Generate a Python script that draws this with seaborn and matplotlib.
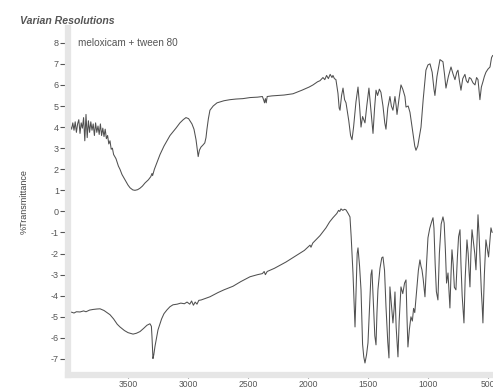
import matplotlib
matplotlib.use("Agg")
import matplotlib.pyplot as plt
import seaborn as sns
import pandas as pd
from matplotlib.ticker import MultipleLocator

sns.set_style("white")
plt.rcParams['font.family'] = ['Liberation Sans', 'DejaVu Sans']
plt.rcParams['axes.unicode_minus'] = False

# ---- data: wavenumber (cm-1) and %Transmittance ----
top_wn = [4000, 3990, 3980, 3970, 3960, 3950, 3940, 3930, 3920, 3910, 3900, 3890, 3880, 3870, 3860, 3850,
          3840, 3830, 3820, 3810, 3800, 3790, 3780, 3770, 3760, 3750, 3740, 3730, 3720, 3710, 3700, 3690,
          3680, 3670, 3660, 3650, 3640, 3630, 3620, 3600, 3580, 3567, 3550, 3525, 3500, 3483, 3460, 3442,
          3420, 3400, 3380, 3358, 3330, 3310, 3300, 3295, 3280, 3250, 3233, 3200, 3150, 3100, 3067, 3040,
          3017, 2995, 2967, 2950, 2933, 2920, 2915, 2905, 2892, 2875, 2860, 2850, 2842, 2830, 2817, 2790,
          2758, 2700, 2650, 2600, 2542, 2483, 2420, 2380, 2370, 2362, 2355, 2348, 2340, 2300, 2250, 2200,
          2125, 2050, 1990, 1958, 1920, 1900, 1875, 1860, 1845, 1830, 1815, 1800, 1792, 1780, 1767, 1750,
          1740, 1733, 1720, 1708, 1695, 1683, 1660, 1645, 1633, 1620, 1600, 1583, 1570, 1558, 1545, 1525,
          1510, 1492, 1475, 1458, 1445, 1433, 1420, 1405, 1392, 1375, 1360, 1350, 1335, 1317, 1305, 1292,
          1275, 1265, 1258, 1240, 1225, 1210, 1192, 1183, 1165, 1150, 1130, 1110, 1100, 1085, 1070, 1058,
          1040, 1017, 1000, 983, 965, 950, 942, 925, 900, 875, 862, 850, 830, 808, 790, 775,
          760, 750, 738, 725, 710, 692, 680, 667, 655, 642, 625, 608, 595, 583, 575, 567,
          555, 542, 530, 517, 500, 483, 470, 460]
top_T = [4.05, 4.0, 4.05, 3.9, 4.2, 3.85, 4.25, 3.75, 4.15, 4.35, 3.7, 4.2, 3.95, 4.45, 3.35, 4.6,
         3.5, 4.3, 3.75, 4.25, 3.85, 4.15, 3.6, 4.2, 3.75, 4.05, 3.65, 4.15, 3.6, 3.95, 3.55, 3.9,
         3.45, 3.6, 3.2, 3.35, 2.95, 3.0, 2.7, 2.5, 2.15, 2.0, 1.75, 1.5, 1.25, 1.12, 1.02, 1.0,
         1.03, 1.1, 1.2, 1.35, 1.5, 1.65, 1.8, 1.7, 2.0, 2.45, 2.7, 3.1, 3.6, 3.95, 4.2, 4.35,
         4.45, 4.4, 4.15, 3.9, 3.4, 2.8, 2.6, 2.9, 3.05, 3.15, 3.25, 3.5, 3.9, 4.4, 4.8, 5.0,
         5.15, 5.25, 5.3, 5.33, 5.35, 5.4, 5.42, 5.45, 5.3, 5.15, 5.35, 5.15, 5.45, 5.48, 5.5, 5.52,
         5.58, 5.75, 5.9, 6.0, 6.15, 6.2, 6.35, 6.25, 6.45, 6.3, 6.5, 6.35, 6.45, 6.3, 6.25, 5.6,
         4.9, 4.8, 5.5, 5.85, 5.3, 5.15, 4.3, 3.6, 3.4, 4.0, 5.2, 5.9, 5.0, 4.0, 4.5, 4.2,
         5.0, 5.85, 4.8, 3.7, 4.9, 5.75, 5.5, 5.8, 5.65, 5.0, 4.2, 3.9, 4.9, 5.45, 5.0, 4.8,
         5.45, 5.0, 4.6, 5.4, 6.0, 5.8, 5.45, 4.95, 5.0, 4.7, 3.9, 3.1, 2.9, 3.1, 3.6, 4.0,
         5.3, 6.7, 6.95, 7.0, 6.6, 5.8, 5.5, 6.4, 7.2, 7.1, 6.5, 5.85, 6.4, 6.85, 6.5, 6.25,
         6.6, 6.7, 6.2, 5.75, 6.3, 6.5, 6.2, 6.1, 6.35, 6.3, 6.1, 6.0, 6.35, 6.25, 5.8, 5.3,
         5.9, 6.15, 6.4, 6.6, 6.75, 6.85, 7.3, 7.4]

bot_wn = [4000, 3970, 3950, 3930, 3900, 3870, 3850, 3820, 3790, 3760, 3733, 3700, 3670, 3650, 3620, 3590,
          3567, 3530, 3500, 3470, 3458, 3430, 3400, 3370, 3342, 3317, 3305, 3300, 3295, 3292, 3285, 3275,
          3262, 3250, 3220, 3200, 3175, 3150, 3125, 3090, 3060, 3030, 3008, 2985, 2970, 2955, 2940, 2925,
          2910, 2890, 2850, 2817, 2750, 2700, 2625, 2560, 2483, 2420, 2380, 2365, 2355, 2340, 2280, 2183,
          2100, 2030, 1983, 1975, 1960, 1900, 1860, 1850, 1820, 1792, 1760, 1745, 1735, 1725, 1710, 1695,
          1683, 1665, 1650, 1640, 1625, 1615, 1608, 1598, 1590, 1583, 1570, 1558, 1545, 1535, 1525, 1512,
          1500, 1485, 1475, 1467, 1455, 1443, 1433, 1425, 1417, 1400, 1385, 1375, 1362, 1350, 1335, 1325,
          1320, 1317, 1305, 1292, 1282, 1275, 1265, 1250, 1240, 1225, 1210, 1195, 1183, 1175, 1167, 1155,
          1142, 1130, 1120, 1110, 1095, 1080, 1067, 1058, 1050, 1040, 1025, 1012, 1000, 985, 970, 958,
          950, 940, 930, 917, 905, 890, 875, 865, 855, 845, 833, 825, 817, 808, 800, 790,
          780, 767, 755, 745, 733, 725, 715, 700, 690, 675, 665, 658, 650, 642, 633, 620,
          610, 600, 590, 583, 575, 567, 555, 548, 542, 530, 517, 505, 495, 485, 475, 465]
bot_T = [-4.8, -4.78, -4.82, -4.76, -4.77, -4.72, -4.76, -4.68, -4.65, -4.63, -4.62, -4.7, -4.82, -4.9, -5.1, -5.35,
         -5.48, -5.65, -5.75, -5.8, -5.82, -5.78, -5.7, -5.55, -5.4, -5.33, -5.45, -5.95, -6.6, -6.98, -6.8, -6.4,
         -6.0, -5.62, -5.1, -4.85, -4.67, -4.52, -4.43, -4.4, -4.35, -4.38, -4.3, -4.4, -4.25, -4.45, -4.3, -4.4,
         -4.22, -4.2, -4.12, -4.05, -3.85, -3.72, -3.55, -3.33, -3.1, -3.0, -2.95, -2.85, -3.0, -2.85, -2.7, -2.4,
         -2.1, -1.85, -1.6, -1.7, -1.5, -1.15, -0.85, -0.78, -0.5, -0.3, -0.1, 0.05, 0.0, 0.12, 0.05, 0.1,
         0.07, -0.1, -0.26, -1.2, -2.92, -4.5, -5.48, -3.5, -2.0, -1.73, -2.6, -3.72, -6.3, -6.9, -7.19, -6.8,
         -6.24, -4.3, -3.0, -2.77, -4.3, -5.9, -6.33, -4.8, -3.72, -2.7, -2.2, -2.16, -2.8, -4.5, -6.2, -6.95,
         -5.0, -3.58, -4.4, -5.29, -4.6, -3.82, -5.5, -6.9, -5.2, -3.58, -3.9, -3.4, -3.25, -5.0, -6.43, -5.6,
         -5.0, -5.2, -4.6, -4.8, -3.8, -2.8, -2.3, -2.6, -2.77, -3.2, -4.05, -2.5, -1.25, -0.8, -0.5, -0.3,
         -0.8, -2.5, -3.8, -4.2, -2.0, -0.6, -0.26, -0.55, -1.8, -3.4, -2.92, -3.8, -4.58, -3.0, -1.82, -2.5,
         -3.6, -3.72, -2.2, -1.2, -0.87, -2.5, -4.0, -5.29, -3.2, -1.35, -2.0, -2.8, -3.58, -2.0, -0.87, -1.5,
         -2.0, -2.77, -1.2, -0.16, -1.0, -2.16, -3.8, -4.5, -5.29, -3.0, -1.35, -1.8, -2.16, -1.5, -0.78, -1.0]

y_ticks = list(range(-7, 9))
x_ticks = [3500, 3000, 2500, 2000, 1500, 1000, 500]

top_df = pd.DataFrame({"wn": top_wn, "T": top_T})
bot_df = pd.DataFrame({"wn": bot_wn, "T": bot_T})

fig = plt.figure(figsize=(4.93, 3.89), dpi=100)
ax = fig.add_axes([68 / 493, 14 / 389, (493 - 68) / 493, (375 - 28) / 389])

line_color = "#505050"
sns.lineplot(data=top_df, x="wn", y="T", ax=ax, color=line_color, lw=0.75,
             estimator=None, sort=False)
sns.lineplot(data=bot_df, x="wn", y="T", ax=ax, color=line_color, lw=0.75,
             estimator=None, sort=False)

ax.set_xlim(4000, 458)
ax.set_ylim(-7.76, 8.7)
ax.set_yticks(y_ticks)
ax.set_yticklabels([str(v) for v in y_ticks])
ax.set_xticks(x_ticks)
ax.set_xticklabels([str(v) for v in x_ticks])
ax.xaxis.set_minor_locator(MultipleLocator(100))

ax.tick_params(left=True, bottom=True)
ax.tick_params(axis="x", which="minor", bottom=True)
ax.tick_params(axis="y", which="major", direction="out", length=6, width=0.8,
               colors="#555555", labelsize=6.5, pad=0.5)
ax.tick_params(axis="x", which="major", direction="inout", length=5, width=0.8,
               colors="#555555", labelsize=6.2, pad=0.8)
ax.tick_params(axis="x", which="minor", direction="inout", length=3, width=0.6,
               colors="#777777")

for side in ["top", "right"]:
    ax.spines[side].set_visible(False)
ax.spines["left"].set_color("#e6e6e6")
ax.spines["left"].set_linewidth(4.5)
ax.spines["bottom"].set_color("#e6e6e6")
ax.spines["bottom"].set_linewidth(4.5)

ax.set_xlabel("")
ax.set_ylabel("%Transmittance", fontsize=6.5, color="#444444", labelpad=16)

ax.text(3915, 8.0, "meloxicam + tween 80", fontsize=7.2, color="#555555",
        va="center", ha="left")
fig.text(20 / 493, 1 - 21 / 389, "Varian Resolutions", fontsize=7.6, color="#555555",
         fontweight="bold", fontstyle="italic", va="center", ha="left")

fig.savefig("out.png", dpi=100)
